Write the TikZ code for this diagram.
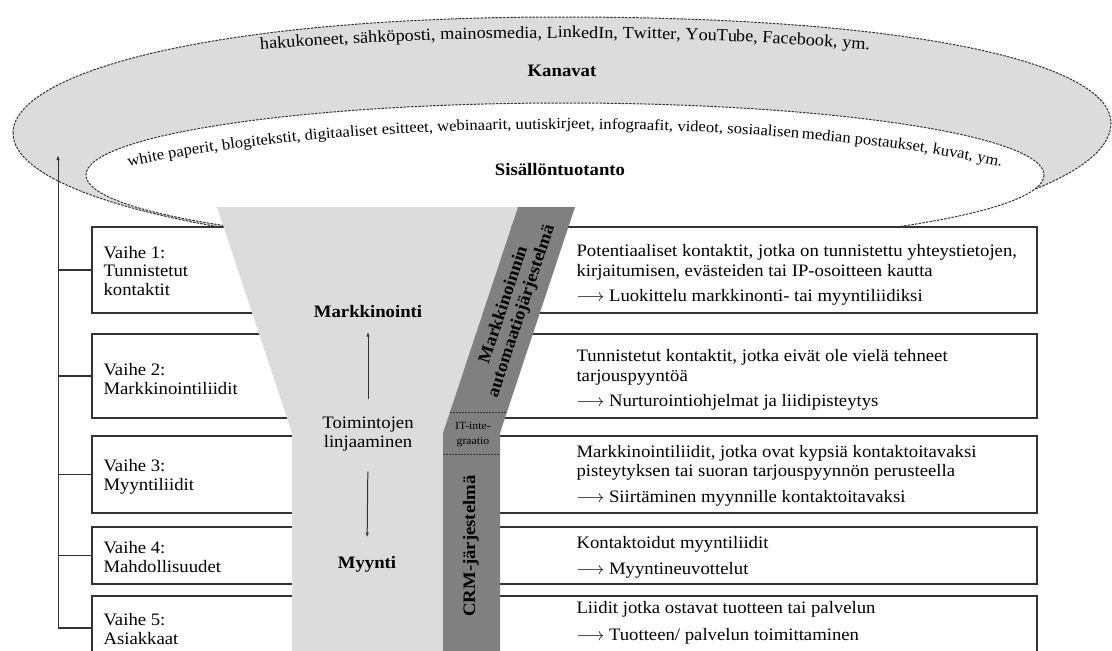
\documentclass[tikz,border=0pt]{standalone}
\usepackage{fontspec}
\setmainfont[FakeStretch=1.07]{Liberation Serif}
\usetikzlibrary{arrows.meta,decorations.text}

\definecolor{lightfill}{HTML}{DCDCDC}
\definecolor{bandfill}{HTML}{808080}
\definecolor{inkgray}{HTML}{333333}

\def\outerring{(13,133) .. controls (13,75) and (200,17) .. (562,17) .. controls (924,17) and (1111,65) .. (1111,123) .. controls (1111,195) and (865,253) .. (562,253) .. controls (259,253) and (13,200) .. cycle}
\def\innerring{(565,175) ellipse [x radius=479, y radius=72]}
\def\bodyfont{\fontsize{17.5}{18.7}\selectfont}

\begin{document}
\begin{tikzpicture}[x=1pt, y=-1pt,
  ring/.style={draw=inkgray, line width=1pt, dash pattern=on 2.5pt off 1.2pt},
  stagebox/.style={draw=inkgray, fill=white, line width=1.2pt, minimum width=945},
  stagelabel/.style={anchor=west, align=left, font=\bodyfont},
  stagetext/.style={anchor=west, align=left, font=\fontsize{17.5}{19.5}\selectfont},
  tip/.style={-{Latex[length=5pt,width=3.5pt]}, line width=1pt, draw=inkgray},
  heading/.style={font=\bfseries\bodyfont},
  ]
  \useasboundingbox (0,0) rectangle (1112,651);
  \clip (0,0) rectangle (1112,651);

  % kanavat + sisallontuotanto
  \filldraw[ring, fill=lightfill] \outerring;
  \filldraw[ring, fill=white] \innerring;
  \path[decorate, decoration={text along path, text align=center,
    text={|\fontsize{17}{19}\selectfont|hakukoneet, sähköposti, mainosmedia, LinkedIn, Twitter, YouTube, Facebook, ym.}}]
    (565,144) ++(195:672 and 106) arc[start angle=195, end angle=345, x radius=672, y radius=106];
  \path[decorate, decoration={text along path, text align=center,
    text={|\fontsize{15.5}{17}\selectfont|white paperit, blogitekstit, digitaaliset esitteet, webinaarit, uutiskirjeet, infograafit, videot, sosiaalisen median postaukset, kuvat, ym.}}]
    (565,230) ++(205:560 and 101) arc[start angle=205, end angle=335, x radius=560, y radius=101];
  \node[heading] (kanavat) at (562,71) {Kanavat};
  \node[heading] (sisalto) at (560,170) {Sisällöntuotanto};

  % vaiheet
  \node[stagebox, minimum height=86] (v1) at (564.5,270) {};
  \node[stagebox, minimum height=84] (v2) at (564.5,376) {};
  \node[stagebox, minimum height=77] (v3) at (564.5,474.5) {};
  \node[stagebox, minimum height=57] (v4) at (564.5,555.5) {};
  \node[stagebox, minimum height=64] (v5) at (564.5,628) {};

  \node[stagelabel] (v1l) at (100,271) {Vaihe 1:\\Tunnistetut\\kontaktit};
  \node[stagelabel] (v2l) at (100,379) {Vaihe 2:\\Markkinointiliidit};
  \node[stagelabel] (v3l) at (100,477) {Vaihe 3:\\Myyntiliidit};
  \node[stagelabel] (v4l) at (100,557) {Vaihe 4:\\Mahdollisuudet};
  \node[stagelabel] (v5l) at (100,629) {Vaihe 5:\\Asiakkaat};

  \node[stagetext] (v1t) at (573,275) {Potentiaaliset kontaktit, jotka on tunnistettu yhteystietojen,\\kirjaitumisen, evästeiden tai IP-osoitteen kautta\\[6pt]$\longrightarrow$ Luokittelu markkinonti- tai myyntiliidiksi};
  \node[stagetext] (v2t) at (573,380) {Tunnistetut kontaktit, jotka eivät ole vielä tehneet\\tarjouspyyntöä\\[6pt]$\longrightarrow$ Nurturointiohjelmat ja liidipisteytys};
  \node[stagetext] (v3t) at (573,475.5) {Markkinointiliidit, jotka ovat kypsiä kontaktoitavaksi\\pisteytyksen tai suoran tarjouspyynnön perusteella\\[6pt]$\longrightarrow$ Siirtäminen myynnille kontaktoitavaksi};
  \node[stagetext] (v4t) at (573,557.5) {Kontaktoidut myyntiliidit\\[6pt]$\longrightarrow$ Myyntineuvottelut};
  \node[stagetext] (v5t) at (573,623) {Liidit jotka ostavat tuotteen tai palvelun\\[7pt]$\longrightarrow$ Tuotteen/ palvelun toimittaminen};

  % spine on the left
  \coordinate (spinetop) at (58,155);
  \coordinate (spinebot) at (58,628);
  \draw[tip] (spinebot) -- (spinetop);
  \foreach \n in {v1,v2,v3,v4,v5}
    \draw[inkgray, line width=1.2pt] (\n.west) -- (\n.west -| spinetop);

  % suppilo
  \fill[lightfill] (217,207) -- (518,207) -- (443,433) -- (443,660) -- (292,660) -- (292,433) -- cycle;
  \fill[bandfill] (518,207) -- (575,207) -- (500,433) -- (500,660) -- (443,660) -- (443,433) -- cycle;
  \draw[inkgray, line width=1pt, dash pattern=on 2pt off 1pt] (450,412) -- (507,412) (443,454) -- (500,454);

  \node[heading] (mark) at (368,312) {Markkinointi};
  \node[font=\bodyfont, align=center] (linj) at (368,434) {Toimintojen\\linjaaminen};
  \node[heading] (myynti) at (367,564) {Myynti};
  \draw[tip, shorten <=14pt, shorten >=10pt] (linj.north) -- (mark.south);
  \draw[tip, shorten <=17pt, shorten >=15pt] (linj.south) -- (myynti.north);

  \node[heading, rotate=71.6, align=center] (mas) at (513,308) {Markkinoinnin\\automaatiojärjestelmä};
  \node[font=\fontsize{11}{15}\selectfont, align=center, inner sep=0pt] (it) at (473,435) {IT-inte-\\graatio};
  \node[heading, rotate=90] (crm) at (471,546) {CRM-järjestelmä};
\end{tikzpicture}
\end{document}
